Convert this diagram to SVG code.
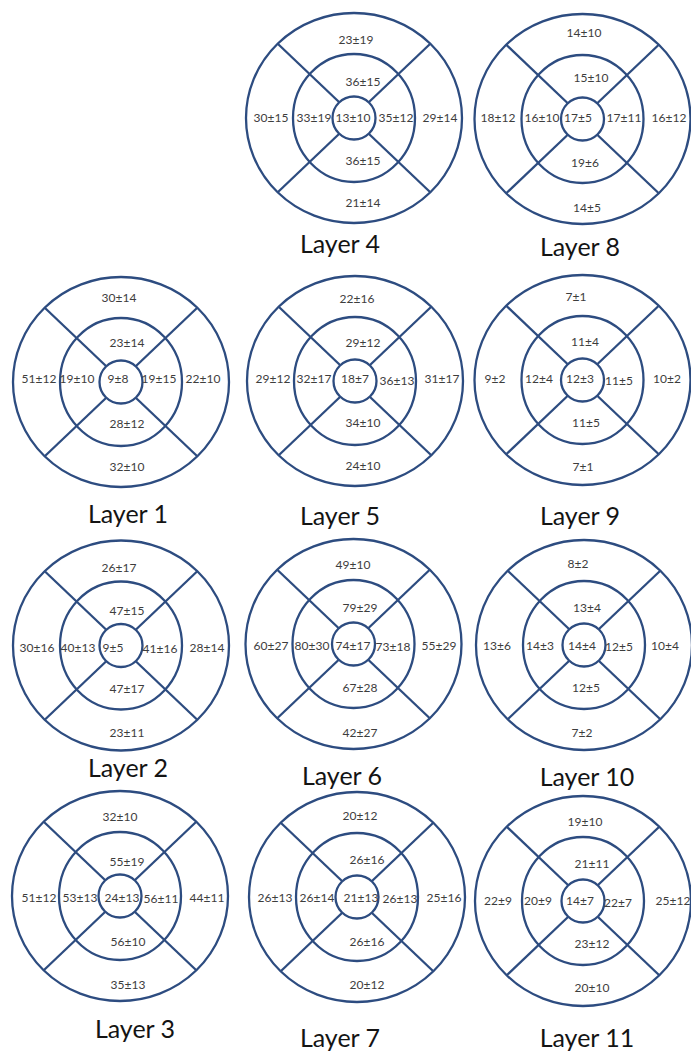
<svg xmlns="http://www.w3.org/2000/svg" xmlns:xlink="http://www.w3.org/1999/xlink" width="691" height="1053" viewBox="0 0 691 1053">
<style>
.g{fill:none;stroke:#2d4c80;stroke-width:2.3}
.v{font-family:Lato,"Open Sans","Liberation Sans",sans-serif;font-size:12px;fill:#3d3d3d;text-anchor:middle;dominant-baseline:central}
.t{font-family:Lato,"Open Sans","Liberation Sans",sans-serif;font-size:25px;fill:#141414;text-anchor:middle;dominant-baseline:central}
</style>
<defs>
<g id="grid" class="g">
<ellipse cx="0" cy="0" rx="108" ry="105"/>
<ellipse cx="0" cy="0" rx="61" ry="64"/>
<circle cx="0" cy="0" r="21.5"/>
<line x1="-76" y1="-74" x2="-15" y2="-16"/>
<line x1="76" y1="-74" x2="15" y2="-16"/>
<line x1="-76" y1="74" x2="-15" y2="16"/>
<line x1="76" y1="74" x2="15" y2="16"/>
</g>
</defs>
<rect width="691" height="1053" fill="#fff"/>

<g id="layer-4">
<use xlink:href="#grid" href="#grid" x="354" y="118"/>
<text class="v" x="356" y="39">23±19</text>
<text class="v" x="363" y="81">36±15</text>
<text class="v" x="271" y="117">30±15</text>
<text class="v" x="314" y="117">33±19</text>
<text class="v" x="353" y="117">13±10</text>
<text class="v" x="396" y="117">35±12</text>
<text class="v" x="440" y="117">29±14</text>
<text class="v" x="363" y="160">36±15</text>
<text class="v" x="363" y="202">21±14</text>
<text class="t" x="340" y="243">Layer 4</text>
</g>

<g id="layer-8">
<use xlink:href="#grid" href="#grid" x="582.5" y="119"/>
<text class="v" x="584" y="32">14±10</text>
<text class="v" x="591" y="77">15±10</text>
<text class="v" x="498" y="117">18±12</text>
<text class="v" x="542" y="117">16±10</text>
<text class="v" x="578" y="117">17±5</text>
<text class="v" x="624" y="117">17±11</text>
<text class="v" x="669" y="117">16±12</text>
<text class="v" x="585" y="162">19±6</text>
<text class="v" x="587" y="207">14±5</text>
<text class="t" x="580" y="246">Layer 8</text>
</g>

<g id="layer-1">
<use xlink:href="#grid" href="#grid" x="121" y="382"/>
<text class="v" x="119" y="297">30±14</text>
<text class="v" x="127" y="342">23±14</text>
<text class="v" x="39" y="378">51±12</text>
<text class="v" x="77" y="378">19±10</text>
<text class="v" x="118" y="378">9±8</text>
<text class="v" x="159" y="378">19±15</text>
<text class="v" x="203" y="378">22±10</text>
<text class="v" x="127" y="423">28±12</text>
<text class="v" x="127" y="466">32±10</text>
<text class="t" x="128" y="513">Layer 1</text>
</g>

<g id="layer-5">
<use xlink:href="#grid" href="#grid" x="355" y="381"/>
<text class="v" x="357" y="298">22±16</text>
<text class="v" x="363" y="342">29±12</text>
<text class="v" x="273" y="378">29±12</text>
<text class="v" x="314" y="378">32±17</text>
<text class="v" x="355" y="378">18±7</text>
<text class="v" x="397" y="380">36±13</text>
<text class="v" x="442" y="378">31±17</text>
<text class="v" x="363" y="422">34±10</text>
<text class="v" x="363" y="465">24±10</text>
<text class="t" x="340" y="515">Layer 5</text>
</g>

<g id="layer-9">
<use xlink:href="#grid" href="#grid" x="582.5" y="380"/>
<text class="v" x="576" y="296">7±1</text>
<text class="v" x="585" y="341">11±4</text>
<text class="v" x="495" y="378">9±2</text>
<text class="v" x="539" y="378">12±4</text>
<text class="v" x="580" y="378">12±3</text>
<text class="v" x="619" y="380">11±5</text>
<text class="v" x="667" y="378">10±2</text>
<text class="v" x="586" y="422">11±5</text>
<text class="v" x="583" y="466">7±1</text>
<text class="t" x="580" y="515">Layer 9</text>
</g>

<g id="layer-2">
<use xlink:href="#grid" href="#grid" x="121" y="645.5"/>
<text class="v" x="119" y="567">26±17</text>
<text class="v" x="127" y="610">47±15</text>
<text class="v" x="37" y="647">30±16</text>
<text class="v" x="78" y="647">40±13</text>
<text class="v" x="113" y="647">9±5</text>
<text class="v" x="160" y="648">41±16</text>
<text class="v" x="207" y="647">28±14</text>
<text class="v" x="127" y="688">47±17</text>
<text class="v" x="127" y="732">23±11</text>
<text class="t" x="128" y="767">Layer 2</text>
</g>

<g id="layer-6">
<use xlink:href="#grid" href="#grid" x="353.5" y="644"/>
<text class="v" x="353" y="564">49±10</text>
<text class="v" x="360" y="607">79±29</text>
<text class="v" x="271" y="645">60±27</text>
<text class="v" x="312" y="645">80±30</text>
<text class="v" x="353" y="645">74±17</text>
<text class="v" x="393" y="646">73±18</text>
<text class="v" x="439" y="645">55±29</text>
<text class="v" x="360" y="687">67±28</text>
<text class="v" x="360" y="732">42±27</text>
<text class="t" x="342" y="775">Layer 6</text>
</g>

<g id="layer-10">
<use xlink:href="#grid" href="#grid" x="584" y="645"/>
<text class="v" x="578" y="563">8±2</text>
<text class="v" x="587" y="607">13±4</text>
<text class="v" x="497" y="645">13±6</text>
<text class="v" x="540" y="645">14±3</text>
<text class="v" x="582" y="645">14±4</text>
<text class="v" x="619" y="646">12±5</text>
<text class="v" x="665" y="645">10±4</text>
<text class="v" x="586" y="687">12±5</text>
<text class="v" x="582" y="732">7±2</text>
<text class="t" x="587" y="776">Layer 10</text>
</g>

<g id="layer-3">
<use xlink:href="#grid" href="#grid" x="120" y="896"/>
<text class="v" x="120" y="816">32±10</text>
<text class="v" x="127" y="861">55±19</text>
<text class="v" x="39" y="897">51±12</text>
<text class="v" x="80" y="897">53±13</text>
<text class="v" x="122" y="897">24±13</text>
<text class="v" x="161" y="898">56±11</text>
<text class="v" x="207" y="897">44±11</text>
<text class="v" x="128" y="941">56±10</text>
<text class="v" x="128" y="984">35±13</text>
<text class="t" x="135" y="1028">Layer 3</text>
</g>

<g id="layer-7">
<use xlink:href="#grid" href="#grid" x="357" y="897"/>
<text class="v" x="360" y="815">20±12</text>
<text class="v" x="367" y="859">26±16</text>
<text class="v" x="275" y="897">26±13</text>
<text class="v" x="317" y="897">26±14</text>
<text class="v" x="361" y="897">21±13</text>
<text class="v" x="400" y="898">26±13</text>
<text class="v" x="444" y="897">25±16</text>
<text class="v" x="367" y="941">26±16</text>
<text class="v" x="367" y="984">20±12</text>
<text class="t" x="340" y="1037">Layer 7</text>
</g>

<g id="layer-11">
<use xlink:href="#grid" href="#grid" x="583" y="901"/>
<text class="v" x="585" y="821">19±10</text>
<text class="v" x="592" y="863">21±11</text>
<text class="v" x="498" y="900">22±9</text>
<text class="v" x="538" y="900">20±9</text>
<text class="v" x="580" y="900">14±7</text>
<text class="v" x="618" y="902">22±7</text>
<text class="v" x="673" y="900">25±12</text>
<text class="v" x="592" y="943">23±12</text>
<text class="v" x="592" y="987">20±10</text>
<text class="t" x="587" y="1037">Layer 11</text>
</g>

<g id="connectors"></g>
</svg>
